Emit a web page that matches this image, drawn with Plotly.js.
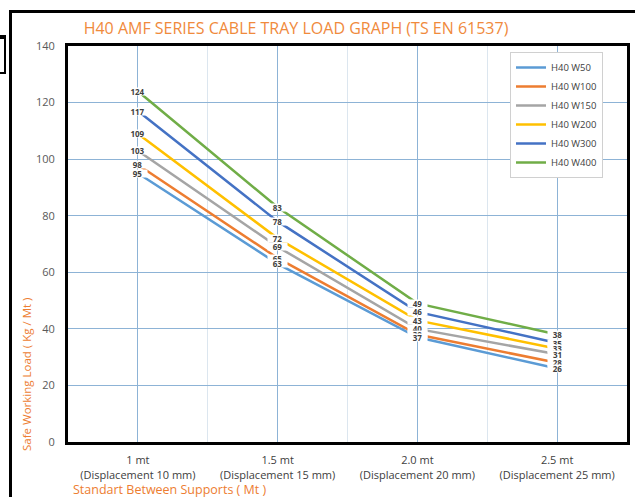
<!DOCTYPE html>
<html><head><meta charset="utf-8">
<script src="https://cdn.plot.ly/plotly-3.0.1.min.js"></script>
<style>
html,body{margin:0;padding:0;background:#fff;overflow:hidden;}
#wrap{position:relative;width:635px;height:497px;}
#chart{position:absolute;left:0;top:0;width:635px;height:497px;}
#frame{position:absolute;left:9px;top:10px;width:700px;height:600px;border:3px solid #000;pointer-events:none;}
#tab{position:absolute;left:-3px;top:35px;width:5px;height:33px;border:2px solid #000;border-top-width:4px;pointer-events:none;}
</style></head>
<body><div id="wrap"><div id="chart"></div><div id="frame"></div><div id="tab"></div></div>
<script>
const categories = ["1 mt<br>(Displacement 10 mm)", "1.5 mt<br>(Displacement 15 mm)", "2.0 mt<br>(Displacement 20 mm)", "2.5 mt<br>(Displacement 25 mm)"];
const seriesNames = ["H40 W50", "H40 W100", "H40 W150", "H40 W200", "H40 W300", "H40 W400"];
const w50  = [95, 63, 37, 26];
const w100 = [98, 65, 38, 28];
const w150 = [103, 69, 40, 31];
const w200 = [109, 72, 43, 33];
const w300 = [117, 78, 46, 35];
const w400 = [124, 83, 49, 38];
const seriesValues = [w50, w100, w150, w200, w300, w400];
const colors = ["#5B9BD5", "#ED7D31", "#A5A5A5", "#FFC000", "#4472C4", "#70AD47"];
const yTicks = [0, 20, 40, 60, 80, 100, 120, 140];

const xIdx = categories.map((c, i) => i);
const font = "Open Sans, Liberation Sans, sans-serif";

const traces = seriesValues.map((vals, s) => ({
  type: "scatter", mode: "lines", name: seriesNames[s],
  x: xIdx, y: vals,
  line: {color: colors[s], width: 2.5},
  hoverinfo: "skip"
}));

const annotations = [];
for (let s = seriesValues.length - 1; s >= 0; s--) {
  seriesValues[s].forEach((v, i) => {
    annotations.push({
      x: i, y: v, xref: "x", yref: "y", text: String(v), showarrow: false,
      font: {family: font, size: 8, color: "#404040", weight: "bold"},
      bgcolor: "#ffffff", borderpad: 0, width: 19, height: 7
    });
  });
}
annotations.push({
  text: "Safe Working Load ( Kg / Mt )", xref: "paper", yref: "paper",
  x: (26 - 68) / 559, y: (442 - 374) / 396, textangle: -90, showarrow: false,
  xanchor: "center", yanchor: "middle",
  font: {family: font, size: 11.5, color: "#ED7D31"}
});
annotations.push({
  text: "Standart Between Supports ( Mt )", xref: "paper", yref: "paper",
  x: (71 - 68) / 559, y: (442 - 489) / 396, showarrow: false,
  xanchor: "left", yanchor: "middle",
  font: {family: font, size: 12.5, color: "#ED7D31"}
});

const layout = {
  width: 635, height: 497,
  margin: {l: 68, r: 8, t: 46, b: 55},
  paper_bgcolor: "rgba(0,0,0,0)", plot_bgcolor: "#ffffff",
  font: {family: font, color: "#595959"},
  title: {
    text: "H40 AMF SERIES CABLE TRAY LOAD GRAPH (TS EN 61537)",
    x: 296 / 635, xanchor: "center", y: 1 - 28 / 497, yanchor: "middle",
    font: {family: font, size: 16, color: "#F08A3C"}
  },
  xaxis: {
    range: [-0.5, 3.5], tickmode: "array", tickvals: xIdx, ticktext: categories,
    showgrid: true, gridcolor: "#8DB3D6", gridwidth: 1,
    minor: {tickmode: "linear", tick0: 0.5, dtick: 1, showgrid: true, gridcolor: "#DCE6EF", gridwidth: 1},
    showline: true, mirror: true, linecolor: "#000", linewidth: 3,
    zeroline: false, ticks: "", ticklabelstandoff: 6,
    tickfont: {family: font, size: 11, color: "#404040"},
    fixedrange: true
  },
  yaxis: {
    range: [0, 140], tickmode: "array", tickvals: yTicks,
    showgrid: true, gridcolor: "#8DB3D6", gridwidth: 1,
    showline: true, mirror: true, linecolor: "#000", linewidth: 3,
    zeroline: false, ticks: "", ticklabelstandoff: 8,
    tickfont: {family: font, size: 11, color: "#595959"},
    fixedrange: true
  },
  legend: {
    x: (510 - 68) / 559, y: (442 - 52) / 396, xanchor: "left", yanchor: "top",
    bgcolor: "#ffffff", bordercolor: "#D0D0D0", borderwidth: 1,
    font: {family: font, size: 9.5, color: "#404040"},
    itemwidth: 30, tracegroupgap: 0
  },
  annotations: annotations,
  showlegend: true
};

Plotly.newPlot("chart", traces, layout, {displayModeBar: false, staticPlot: true});
</script>
</body></html>
